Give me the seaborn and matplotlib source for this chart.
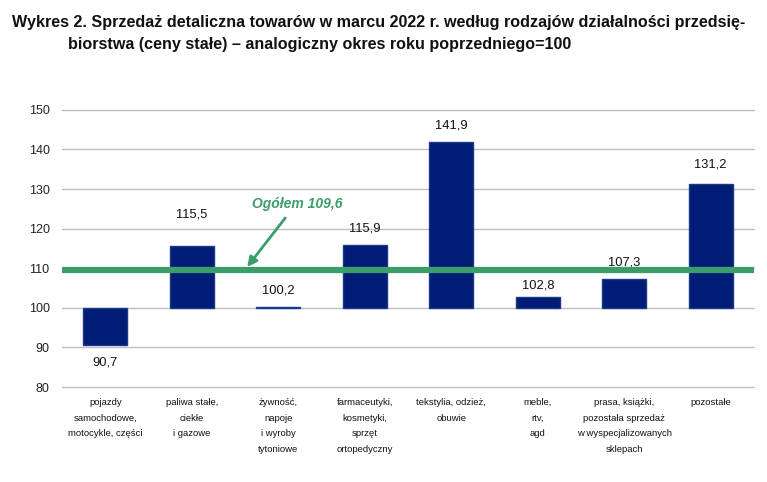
import matplotlib
matplotlib.use('Agg')
import matplotlib.pyplot as plt
import matplotlib.ticker as mticker
import seaborn as sns
import pandas as pd

# dane
kategorie = [
    'pojazdy\nsamochodowe,\nmotocykle, części',
    'paliwa stałe,\nciekłe\ni gazowe',
    'żywność,\nnapoje\ni wyroby\ntytoniowe',
    'farmaceutyki,\nkosmetyki,\nsprzęt\nortopedyczny',
    'tekstylia, odzież,\nobuwie',
    'meble,\nrtv,\nagd',
    'prasa, książki,\npozostała sprzedaż\nw wyspecjalizowanych\nsklepach',
    'pozostałe',
]
wartosci = [90.7, 115.5, 100.2, 115.9, 141.9, 102.8, 107.3, 131.2]
ogolem = 109.6
baza = 100
y_ticks = [80, 90, 100, 110, 120, 130, 140, 150]

df = pd.DataFrame({'kategoria': kategorie, 'wartosc': wartosci})
df['roznica'] = df['wartosc'] - baza

GRANAT = '#001C74'
ZIELONY = '#3A9D6A'

sns.set_style('white')
plt.rcParams['font.family'] = ['Liberation Sans', 'DejaVu Sans']

fig = plt.figure(figsize=(7.67, 4.82), dpi=100)
ax = fig.add_axes([0.081, 0.197, 0.902, 0.575])

sns.barplot(data=df, x='kategoria', y='roznica', color=GRANAT,
            width=0.51, saturation=1, ax=ax, zorder=3,
            edgecolor='#1A3A8A', linewidth=1)

ax.set_ylim(y_ticks[0] - baza, y_ticks[-1] - baza)
ax.set_yticks([t - baza for t in y_ticks])
ax.yaxis.set_major_formatter(mticker.FuncFormatter(lambda v, p: f'{v + baza:.0f}'))
ax.grid(axis='y', color='#BFBFBF', lw=1, zorder=0)
for gl in ax.get_ygridlines():
    gl.set_clip_on(False)
for s in ax.spines.values():
    s.set_visible(False)
ax.set_xlabel('')
ax.set_ylabel('')
ax.tick_params(axis='y', length=0, pad=9, labelsize=9, labelcolor='#222222')
ax.tick_params(axis='x', length=0, pad=8)
for lab in ax.get_xticklabels():
    lab.set_fontsize(6.8)
    lab.set_linespacing(1.95)
    lab.set_color('#111111')

# etykiety wartości (przesunięcie w punktach)
przesuniecia = [-13, 23, 12, 12, 12, 8, 12, 14]
for i, (v, d) in enumerate(zip(wartosci, przesuniecia)):
    txt = f'{v:.1f}'.replace('.', ',')
    ax.annotate(txt, (i, v - baza), xytext=(0, d), textcoords='offset points',
                ha='center', va='center', fontsize=9.3, color='#111111')

# linia ogółem
ax.axhline(ogolem - baza, color=ZIELONY, lw=4.5, zorder=4)
ax.annotate('', xy=(1.64, ogolem - baza + 0.75), xytext=(2.08, 122.7 - baza),
            arrowprops=dict(arrowstyle='-|>', color=ZIELONY, lw=2, mutation_scale=14,
                            shrinkA=0, shrinkB=0),
            zorder=5)
ax.text(2.22, 126.2 - baza, 'Ogółem 109,6', ha='center', va='center', fontsize=10,
        fontweight='bold', fontstyle='italic', color=ZIELONY, zorder=5)

fig.text(12 / 767, 1 - 22 / 482, 'Wykres 2. Sprzedaż detaliczna towarów w marcu 2022 r. według rodzajów działalności przedsię-',
         ha='left', va='center', fontsize=11.6, fontweight='bold', color='#111111')
fig.text(68 / 767, 1 - 45 / 482, 'biorstwa (ceny stałe) – analogiczny okres roku poprzedniego=100',
         ha='left', va='center', fontsize=11.6, fontweight='bold', color='#111111')

fig.savefig('out.png', dpi=100)
